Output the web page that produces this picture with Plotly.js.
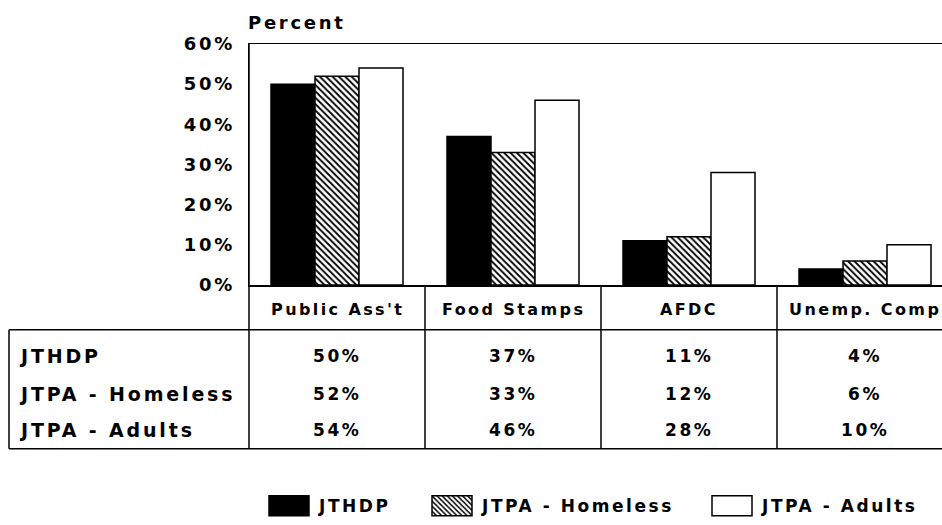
<!DOCTYPE html>
<html>
<head>
<meta charset="utf-8">
<script src="https://cdn.plot.ly/plotly-3.0.1.min.js"></script>
<style>
  html, body { margin: 0; padding: 0; background: #fff; }
  text { letter-spacing: 0.15em; }
</style>
</head>
<body>
<div id="chart" style="width:942px;height:525px;"></div>
<script>
// ---- data ----
const categories = ["Public Ass't", "Food Stamps", "AFDC", "Unemp. Comp"];
const seriesNames = ["JTHDP", "JTPA - Homeless", "JTPA - Adults"];
const jthdp = [50, 37, 11, 4];
const jtpaHomeless = [52, 33, 12, 6];
const jtpaAdults = [54, 46, 28, 10];
const yTicks = [0, 10, 20, 30, 40, 50, 60];
const yTickLabels = ["0%", "10%", "20%", "30%", "40%", "50%", "60%"];

// ---- layout geometry (pixels) ----
const W = 942, H = 525;
const plotL = 249, plotT = 44, plotB = 287;
const plotW = W - plotL, plotH = plotB - plotT;
const catW = 176;
const xRange = [-0.5, -0.5 + plotW / catW];
const px = p => (p - plotL) / plotW;
const py = p => (plotB - p) / plotH;

const FONT = "DejaVu Sans, Arial, sans-serif";
const font = (size) => ({ family: FONT, size: size, color: "#000", weight: 700 });

const lineStyle = { color: "#000", width: 1.5 };

const legendIds = ["legend", "legend2", "legend3"];
const traces = [
  { name: seriesNames[0], values: jthdp,
    marker: { color: "#000", line: { color: "#000", width: 1.5 } } },
  { name: seriesNames[1], values: jtpaHomeless,
    marker: { color: "#fff", line: { color: "#000", width: 1.5 },
      pattern: { shape: "\\", fgcolor: "#000", bgcolor: "#fff", size: 4.5, solidity: 0.4 } } },
  { name: seriesNames[2], values: jtpaAdults,
    marker: { color: "#fff", line: { color: "#000", width: 1.5 } } }
].map((t, i) => ({
  type: "bar", x: categories, y: t.values, name: t.name, marker: t.marker,
  legend: legendIds[i], hoverinfo: "skip"
}));

// table grid lines
const shapes = [];
const tableTop = 332, tableBottom = 452, boxLeft = 9;
shapes.push({ type: "line", xref: "paper", yref: "paper", x0: 0, x1: 0, y0: py(plotT), y1: py(tableBottom), line: lineStyle });
for (let i = 0; i < categories.length - 1; i++) {
  const xb = (i + 0.5 - xRange[0]) / (xRange[1] - xRange[0]);
  shapes.push({ type: "line", xref: "paper", yref: "paper", x0: xb, x1: xb, y0: 0, y1: py(tableBottom), line: lineStyle });
}
shapes.push({ type: "line", xref: "paper", yref: "paper", x0: px(boxLeft), x1: 1, y0: py(tableTop), y1: py(tableTop), line: lineStyle });
shapes.push({ type: "line", xref: "paper", yref: "paper", x0: px(boxLeft), x1: 1, y0: py(tableBottom), y1: py(tableBottom), line: lineStyle });
shapes.push({ type: "line", xref: "paper", yref: "paper", x0: px(boxLeft), x1: px(boxLeft), y0: py(tableTop), y1: py(tableBottom), line: lineStyle });

const annotations = [];
annotations.push({ text: "Percent", xref: "paper", yref: "paper", x: px(246), y: py(22),
  xanchor: "left", yanchor: "middle", showarrow: false, font: font(18) });
// header row
const headerY = 312;
categories.forEach(c => annotations.push({ text: c, xref: "x", yref: "paper", x: c, y: py(headerY),
  xanchor: "center", yanchor: "middle", showarrow: false, font: font(16) }));
// data rows
const rowY = [359, 397, 433];
const rows = [jthdp, jtpaHomeless, jtpaAdults];
rows.forEach((vals, r) => {
  annotations.push({ text: seriesNames[r], xref: "paper", yref: "paper", x: px(17), y: py(rowY[r]),
    xanchor: "left", yanchor: "middle", showarrow: false, font: font(19) });
  vals.forEach((v, i) => annotations.push({ text: v + "%", xref: "x", yref: "paper", x: categories[i], y: py(rowY[r]),
    xanchor: "center", yanchor: "middle", showarrow: false, font: font(17) }));
});

// legend placement: swatch centres (pixels)
const swatchCenters = [289, 452, 732];
const legendY = 510;
const legendBase = (cx) => ({ orientation: "h", x: px(cx - 30), xanchor: "left", y: py(legendY), yanchor: "middle",
  font: font(17), itemwidth: 50, bgcolor: "rgba(0,0,0,0)", borderwidth: 0 });

const layout = {
  width: W, height: H,
  margin: { l: plotL, r: 0, t: plotT, b: H - plotB, pad: 0 },
  paper_bgcolor: "#fff", plot_bgcolor: "#fff",
  barmode: "group", bargap: 0.25, bargroupgap: 0,
  font: font(16),
  xaxis: { type: "category", range: xRange, showticklabels: false, ticks: "",
    showline: true, mirror: true, linecolor: "#000", linewidth: 1.5, showgrid: false, zeroline: false },
  yaxis: { range: [0, 60], tickvals: yTicks, ticktext: yTickLabels, ticks: "",
    ticklabelstandoff: 9, tickfont: font(18),
    showline: true, linecolor: "#000", linewidth: 1.5, showgrid: false, zeroline: false },
  showlegend: true,
  legend: legendBase(swatchCenters[0]),
  legend2: legendBase(swatchCenters[1]),
  legend3: legendBase(swatchCenters[2]),
  shapes: shapes,
  annotations: annotations
};

function bigSwatches(gd) {
  gd.querySelectorAll(".legendpoints path").forEach(p => p.setAttribute("d", "M20,10H-20V-10H20Z"));
}
Plotly.newPlot("chart", traces, layout, { displayModeBar: false, staticPlot: true }).then(gd => {
  bigSwatches(gd);
  gd.on("plotly_afterplot", () => bigSwatches(gd));
  setTimeout(() => bigSwatches(gd), 50);
});
</script>
</body>
</html>
